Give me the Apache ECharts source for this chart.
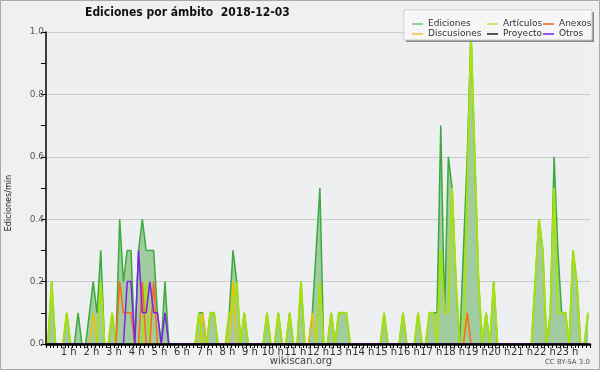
<!DOCTYPE html>
<html><head><meta charset="utf-8">
<script src="https://cdn.jsdelivr.net/npm/echarts@6/dist/echarts.min.js"></script>
<style>html,body{margin:0;padding:0;background:#f0f0f0}#c{width:600px;height:370px}</style>
</head><body><div id="c"></div>
<script>
// 10-minute bins over the day (144), values in edits/min
const hourLabels = ["1 h","2 h","3 h","4 h","5 h","6 h","7 h","8 h","9 h","10 h","11 h","12 h","13 h","14 h","15 h","16 h","17 h","18 h","19 h","20 h","21 h","22 h","23 h"];
const ediciones = [
0,0.2,0,0,0,0.1,0,0,0.1,0,
0,0.1,0.2,0.1,0.3,0,0,0.1,0,0.4,
0.2,0.3,0.3,0,0.3,0.4,0.3,0.3,0.3,0.1,
0,0.2,0,0,0,0,0,0,0,0,
0.1,0.1,0,0.1,0.1,0,0,0,0.1,0.3,
0.2,0,0.1,0,0,0,0,0,0.1,0,
0,0.1,0,0,0.1,0,0,0.2,0,0,
0.1,0.3,0.5,0,0,0.1,0,0.1,0.1,0.1,
0,0,0,0,0,0,0,0,0,0.1,
0,0,0,0,0.1,0,0,0,0.1,0,
0,0.1,0.1,0.1,0.7,0.1,0.6,0.5,0.2,0,
0.3,0.6,1.0,0.6,0.2,0,0.1,0,0.2,0,
0,0,0,0,0,0,0,0,0,0.2,
0.4,0.3,0,0.1,0.6,0.3,0.1,0.1,0,0.3,
0.2,0,0,0.1];
const articulos = [
0,0.2,0,0,0,0.1,0,0,0,0,
0,0,0,0,0.2,0,0,0.1,0,0,
0,0,0,0,0,0,0.2,0,0,0,
0,0,0,0,0,0,0,0,0,0,
0.1,0,0,0.1,0.1,0,0,0,0.1,0.1,
0.2,0,0.1,0,0,0,0,0,0.1,0,
0,0.1,0,0,0.1,0,0,0.2,0,0,
0,0,0.2,0,0,0.1,0,0.1,0.1,0.1,
0,0,0,0,0,0,0,0,0,0.1,
0,0,0,0,0.1,0,0,0,0.1,0,
0,0.1,0.1,0,0.3,0.1,0.1,0.5,0.2,0,
0,0.5,1.0,0.6,0.2,0,0.1,0,0.2,0,
0,0,0,0,0,0,0,0,0,0.2,
0.4,0.3,0,0.1,0.5,0.1,0.1,0.1,0,0.3,
0.2,0,0,0.1];
const anexos = [
0,0,0,0,0,0,0,0,0,0,
0,0,0,0,0,0,0,0,0,0.2,
0.1,0.1,0.1,0,0,0.2,0,0,0.2,0,
0,0,0,0,0,0,0,0,0,0,
0,0,0,0,0,0,0,0,0,0,
0,0,0,0,0,0,0,0,0,0,
0,0,0,0,0,0,0,0,0,0,
0,0,0,0,0,0,0,0,0,0,
0,0,0,0,0,0,0,0,0,0,
0,0,0,0,0,0,0,0,0,0,
0,0,0,0,0,0,0,0,0,0,
0,0.1,0,0,0,0,0,0,0,0,
0,0,0,0,0,0,0,0,0,0,
0,0,0,0,0,0,0,0,0,0,
0,0,0,0];
const discusiones = [
0,0,0,0,0,0,0,0,0,0,
0,0,0.1,0,0,0,0,0,0,0,
0,0,0,0,0,0,0,0,0,0,
0,0,0,0,0,0,0,0,0,0,
0,0.1,0,0,0,0,0,0,0,0.2,
0,0,0,0,0,0,0,0,0,0,
0,0,0,0,0,0,0,0,0,0,
0.1,0,0,0,0,0,0,0,0,0,
0,0,0,0,0,0,0,0,0,0,
0,0,0,0,0,0,0,0,0,0,
0,0,0,0,0,0,0,0,0,0,
0,0,0,0,0,0,0,0,0,0,
0,0,0,0,0,0,0,0,0,0,
0,0,0,0,0,0,0,0,0,0,
0,0,0,0];
const proyecto = [
0,0,0,0,0,0,0,0,0,0,0,0,0,0,0,0,0,0,0,0,0,0,0,0,
0,0,0,0,0,0,0,0,0,0,0,0,0,0,0,0,0,0,0,0,0,0,0,0,
0,0,0,0,0,0,0,0,0,0,0,0,0,0,0,0,0,0,0,0,0,0,0,0,
0,0,0,0,0,0,0,0,0,0,0,0,0,0,0,0,0,0,0,0,0,0,0,0,
0,0,0,0,0,0,0,0,0,0,0,0,0,0,0,0,0,0,0,0,0,0,0,0,
0,0,0,0,0,0,0,0,0,0,0,0,0,0,0,0,0,0,0,0,0,0,0,0];
const otros = [
0,0,0,0,0,0,0,0,0,0,
0,0,0,0,0,0,0,0,0,0,
0,0.2,0.2,0,0.3,0.1,0.1,0.2,0.1,0.1,
0,0.1,0,0,0,0,0,0,0,0,
0,0,0,0,0,0,0,0,0,0,
0,0,0,0,0,0,0,0,0,0,
0,0,0,0,0,0,0,0,0,0,
0,0,0,0,0,0,0,0,0,0,
0,0,0,0,0,0,0,0,0,0,
0,0,0,0,0,0,0,0,0,0,
0,0,0,0,0,0,0,0,0,0,
0,0,0,0,0,0,0,0,0,0,
0,0,0,0,0,0,0,0,0,0,
0,0,0,0,0,0,0,0,0,0,
0,0,0,0];
const yTicks = [0, 0.2, 0.4, 0.6, 0.8, 1.0];

function pts(arr){ return arr.map((v,i)=>[i+0.5, v]); }
const FONT = 'DejaVu Sans';
const chart = echarts.init(document.getElementById('c'), null, {renderer:'canvas'});
function lineSeries(name, data, color, width, extra){
  return Object.assign({
    name, type:'line', data: pts(data), symbol:'none', smooth:false,
    lineStyle:{color, width}, itemStyle:{color}, emphasis:{disabled:true}, animation:false
  }, extra||{});
}
const legText = {fontFamily:FONT, fontSize:9, color:'#333', lineHeight:10};
function leg(left, items){
  return {orient:'vertical', left, top:14, itemGap:0, itemWidth:11, itemHeight:2, icon:'rect', z:12,
    textStyle:legText, selectedMode:false, data:items};
}
chart.setOption({
  backgroundColor:'#f0f0f0',
  animation:false,
  grid:{left:46, right:10, top:32, bottom:26, show:true, backgroundColor:'#eeeff1', borderWidth:0},
  xAxis:{type:'value', min:0, max:144, interval:1, zlevel:1,
    axisLine:{lineStyle:{color:'#000', width:2.5}},
    axisTick:{length:4, lineStyle:{color:'#000', width:1}},
    axisLabel:{margin:3, fontFamily:FONT, fontSize:10, color:'#333',
      formatter:v=> (v%6===0 && v>0 && v<144) ? hourLabels[v/6-1] : ''},
    splitLine:{show:false}},
  yAxis:{type:'value', min:yTicks[0], max:yTicks[yTicks.length-1], interval:0.2,
    axisLine:{show:true, lineStyle:{color:'#000', width:1.5}},
    axisTick:{show:true, length:5, lineStyle:{color:'#000'}},
    minorTick:{show:true, splitNumber:2, length:5, lineStyle:{color:'#000'}},
    axisLabel:{margin:2, fontFamily:FONT, fontSize:9, color:'#555', formatter:v=>v.toFixed(1)},
    splitLine:{show:true, lineStyle:{color:'#cccccc', width:1}}},
  legend:[
    leg(407, [{name:'Ediciones', itemStyle:{color:'#8fd08f'}}, {name:'Discusiones', itemStyle:{color:'#f5d060'}}]),
    leg(482, [{name:'Artículos', itemStyle:{color:'#c8ec70'}}, {name:'Proyecto', itemStyle:{color:'#555'}}]),
    leg(538, [{name:'Anexos', itemStyle:{color:'#f08850'}}, {name:'Otros', itemStyle:{color:'#9955ee'}}])
  ],
  graphic:[
    {type:'rect', shape:{x:0.5,y:0.5,width:599,height:369}, style:{fill:null, stroke:'#aaaaaa', lineWidth:1}, z:20, silent:true},
    {type:'rect', shape:{x:406,y:12,width:188,height:30}, style:{fill:'#888888'}, z:10, silent:true},
    {type:'rect', shape:{x:404,y:10,width:188,height:30}, style:{fill:'rgba(255,255,255,0.92)', stroke:'#cccccc', lineWidth:1}, z:11, silent:true},
    {type:'text', left:85, top:7, style:{text:'Ediciones por ámbito  2018-12-03', font:'bold 12px "DejaVu Sans Condensed", "DejaVu Sans"', fill:'#111'}, z:20},
    {type:'text', x:9, y:203, rotation:Math.PI/2, style:{text:'Ediciones/min', font:'9px "DejaVu Sans Condensed", "DejaVu Sans"', fill:'#222', align:'center', verticalAlign:'middle'}, z:20},
    {type:'text', x:301, y:356, style:{text:'wikiscan.org', font:'10px "DejaVu Sans"', fill:'#444', align:'center'}, z:20},
    {type:'text', x:590, y:359, style:{text:'CC BY-SA 3.0', font:'7px "DejaVu Sans"', fill:'#555', align:'right'}, z:20}
  ],
  series:[
    lineSeries('Ediciones', ediciones, '#3caa3c', 1.5, {areaStyle:{color:'#a0cca0', opacity:1}, z:2}),
    lineSeries('Discusiones', discusiones, '#f2c200', 1.5, {z:3}),
    lineSeries('Artículos', articulos, '#a8e010', 2, {z:4}),
    lineSeries('Anexos', anexos, '#ff6a10', 1.5, {z:5}),
    lineSeries('Proyecto', proyecto, '#555555', 1, {z:5}),
    lineSeries('Otros', otros, '#8020ee', 1.5, {z:6})
  ]
});
</script></body></html>
